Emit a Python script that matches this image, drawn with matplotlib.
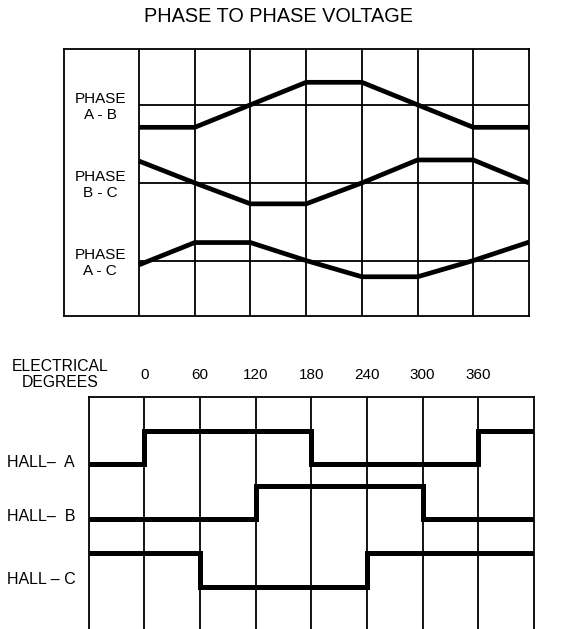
import matplotlib.pyplot as plt

plt.rcParams['font.family'] = ['Liberation Sans', 'DejaVu Sans']

# ---- data ----
# phase-to-phase voltages, read at each 60 degree grid line (0 .. 420)
grid_deg = [0, 60, 120, 180, 240, 300, 360, 420]
phase_ab = [-1.0, -1.0, 0.0, 1.0, 1.0, 0.0, -1.0, -1.0]
phase_bc = [0.97, 0.0, -0.93, -0.93, 0.0, 1.02, 1.02, 0.0]
phase_ac = [-0.19, 0.8, 0.8, 0.0, -0.72, -0.72, 0.0, 0.82]
phase_labels = ['PHASE\nA - B', 'PHASE\nB - C', 'PHASE\nA - C']

# hall sensor states per 60 degree segment, from -60 to 420
seg_edges = [-60, 0, 60, 120, 180, 240, 300, 360, 420]
hall_a = [0, 1, 1, 1, 0, 0, 0, 1]
hall_b = [0, 0, 0, 1, 1, 1, 0, 0]
hall_c = [1, 1, 0, 0, 0, 1, 1, 1]
hall_labels = ['HALL\u2013  A', 'HALL\u2013  B', 'HALL \u2013 C']
deg_ticks = [0, 60, 120, 180, 240, 300, 360]

# ---- layout ----
fig = plt.figure(figsize=(5.61, 6.29), dpi=100)
LW_GRID = 1.3

# top panel
ax1 = fig.add_axes([64 / 561, 1 - 315.7 / 629, 465 / 561, 266.7 / 629])
ax1.set_xlim(-80.8, 420)
ax1.set_ylim(-2.45, 9.4)
ax1.set_xticks([])
ax1.set_yticks([])
for s in ax1.spines.values():
    s.set_linewidth(LW_GRID)

baselines = [6.92, 3.45, 0.0]
for x in grid_deg[:-1]:
    ax1.axvline(x, color='black', lw=LW_GRID)
for b in baselines:
    ax1.hlines(b, 0, 420, color='black', lw=LW_GRID)

for b, vals, lab in zip(baselines, [phase_ab, phase_bc, phase_ac], phase_labels):
    ax1.plot(grid_deg, [b + v for v in vals], color='black', lw=3.4,
             solid_joinstyle='miter', solid_capstyle='butt')
    ax1.text(-42, b - 0.1, lab, ha='center', va='center', fontsize=11,
             linespacing=1.15)

fig.text(0.497, 1 - 16.7 / 629, 'PHASE TO PHASE VOLTAGE', ha='center',
         va='center', fontsize=14.3)

# bottom panel
ax2 = fig.add_axes([88.5 / 561, 0, 445.5 / 561, 232 / 629])
ax2.set_xlim(-60, 420)
ax2.set_ylim(0, 6.97)
ax2.set_xticks([])
ax2.set_yticks([])
ax2.spines['bottom'].set_visible(False)
for s in ax2.spines.values():
    s.set_linewidth(LW_GRID)
for x in deg_ticks:
    ax2.axvline(x, color='black', lw=LW_GRID)
    ax2.text(x, 7.63, str(x), ha='center', va='center', fontsize=11,
             clip_on=False)

lows = [4.955, 3.294, 1.27]
label_y = [5.015, 3.39, 1.50]
for low, states, lab, ly in zip(lows, [hall_a, hall_b, hall_c], hall_labels, label_y):
    ys = [low + s for s in states] + [low + states[-1]]
    ax2.step(seg_edges, ys, where='post', color='black', lw=3.6,
             solid_joinstyle='miter', solid_capstyle='butt')
    ax2.text(-147.8, ly, lab, ha='left', va='center', fontsize=11.5,
             clip_on=False)

ax2.text(-90.2, 7.64, 'ELECTRICAL\nDEGREES', ha='center', va='center',
         fontsize=11.3, linespacing=1.05, clip_on=False)

fig.savefig('out.png', dpi=100)
